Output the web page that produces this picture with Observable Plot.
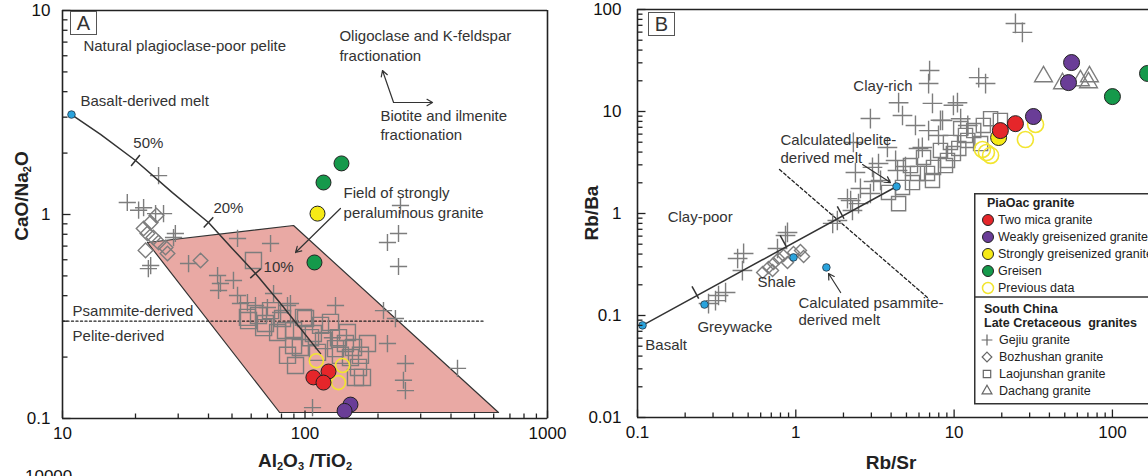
<!DOCTYPE html>
<html><head><meta charset="utf-8">
<script src="https://cdn.jsdelivr.net/npm/d3@7"></script>
<script src="https://cdn.jsdelivr.net/npm/@observablehq/plot@0.6"></script>
<style>
body{margin:0;background:#fff;}
#wrap{position:relative;width:1148px;height:476px;overflow:hidden;background:#fff;font-family:"Liberation Sans",Arial,sans-serif;color:#222}
.pl{position:absolute;top:0}
.ttl{position:absolute;font-weight:bold;font-size:19px;white-space:nowrap;color:#222;line-height:1}
.ttl sub{font-size:11px;vertical-align:-3px;line-height:0}
.box{position:absolute;border:1px solid #555;font-size:20px;line-height:22px;text-align:center;color:#333;background:#fff}
</style></head><body><div id="wrap"></div>
<script>
// ---------------- Panel A data: CaO/Na2O vs Al2O3/TiO2 ----------------
const aXTicks = [10, 100, 1000];
const aYTicks = [0.1, 1, 10];
const aGejiu = [[24.9,1.55],[18.5,1.145],[21.6,1.08],[24.2,1.01],[26.1,1.01],[29.2,0.807],[22.6,0.543],[52.7,0.763],[72.1,0.721],[33.1,0.575],[43.6,0.502],[44.8,0.459],[50.7,0.475],[44,0.424],[52.7,0.401],[57.9,0.370],[62.5,0.358],[74.2,0.410],[84.7,0.358],[79.3,0.331],[107.4,0.113],[247.6,1.107],[243,0.807],[218.8,0.729],[243,0.556],[133.6,0.358],[210.7,0.338],[236,0.309],[218.8,0.233],[259.5,0.186],[254.7,0.154],[259.5,0.137],[425.5,0.176],[87.1,0.366],[129.7,0.249],[23.1,0.562],[54.2,0.366],[70,0.350],[28.7,0.771],[20.6,1.05]];
const aBozhushan = [[21.6,0.854],[23.1,0.913],[24.4,0.989],[22.4,0.807],[22,0.667],[24.9,0.729],[26.6,0.689],[27.1,0.644],[37.1,0.595],[23.7,0.771]];
const aLaojunshan = [[61.3,0.595],[57.9,0.313],[64.3,0.320],[68.7,0.292],[58.5,0.302],[67.5,0.279],[77.1,0.264],[80.8,0.309],[89.7,0.270],[98.6,0.313],[83.1,0.270],[95.7,0.223],[105.4,0.249],[84.7,0.204],[100.5,0.309],[108.3,0.261],[127.4,0.296],[137.4,0.249],[149.6,0.264],[146.8,0.233],[158.5,0.223],[181,0.233],[154,0.199],[166.2,0.178],[172.6,0.159],[161.5,0.159],[119.2,0.241],[133.6,0.220],[112.6,0.211],[89.7,0.228],[115.9,0.286],[140,0.204],[91.4,0.182],[72.1,0.338],[169.3,0.204]];
const aTwoMica = [[108.3,0.159],[125,0.170],[119.2,0.150]];
const aWeakly = [[154,0.117],[145.6,0.109]];
const aStrongly = [[112.6,1.01]];
const aGreisen = [[141.4,1.78],[119.2,1.435],[109.4,0.582]];
const aPrevious = [[111.4,0.192],[142.8,0.182],[137.4,0.150]];
const aMeltCurve = [[10.89,3.09],[14.35,2.47],[20.0,1.84],[28.4,1.28],[40.0,0.914],[50.2,0.68],[62.5,0.514],[79.3,0.366],[115.9,0.208]];
const aCurveTickIdx = [2, 4, 6];
const aBasaltMelt = [[10.89,3.09]];
const aField = [[22.4,0.729],[89.7,0.883],[628,0.107],[78.6,0.107]];
const aDivide = [[10,0.3],[545,0.3]];
const aArrows = [
  {x1:231.9,y1:3.54,x2:208.7,y2:5.08},
  {x1:231.9,y1:3.54,x2:335.7,y2:3.54},
  {x1:140,y1:1.07,x2:91.4,y2:0.651}
];
const aLabels = [
  {x:12.2,y:6.66,t:"Natural plagioclase-poor pelite"},
  {x:11.86,y:3.58,t:"Basalt-derived melt"},
  {x:19.6,y:2.23,t:"50%"},
  {x:41.9,y:1.07,t:"20%"},
  {x:67.5,y:0.55,t:"10%"},
  {x:138.7,y:7.46,t:"Oligoclase and K-feldspar"},
  {x:138.7,y:5.95,t:"fractionation"},
  {x:204.6,y:3.02,t:"Biotite and ilmenite"},
  {x:204.6,y:2.44,t:"fractionation"},
  {x:144.3,y:1.27,t:"Field of strongly"},
  {x:144.3,y:1.02,t:"peraluminous granite"},
  {x:11,y:0.335,t:"Psammite-derived"},
  {x:11,y:0.252,t:"Pelite-derived"}
];

// ---------------- Panel B data: Rb/Ba vs Rb/Sr ----------------
const bXTicks = [0.1, 1, 10, 100];
const bYTicks = [0.01, 0.1, 1, 10, 100];
const bGejiu = [[24.4,73],[27,59.6],[7.0,25.2],[6.9,18.8],[4.46,12.2],[4.72,9.14],[2.96,8.53],[7.3,12],[9.9,11.5],[10.5,12.2],[14.3,21.5],[8.2,8.2],[6.9,6.5],[12.2,7.3],[5.96,4.34],[2.38,2.52],[2.22,1.34],[3.05,2.83],[3.43,2.11],[1.71,0.80],[0.886,0.652],[2.96,1.57],[2.49,1.25],[2.28,1.07],[2.12,1.40],[1.83,0.854],[0.861,0.608],[0.766,0.454],[0.468,0.406],[0.46,0.276],[0.429,0.362],[0.36,0.168],[0.325,0.157],[0.311,0.140],[0.281,0.131],[2.31,4.97],[3.33,3.09],[4.39,2.64],[3.79,4.44],[8.45,8.17],[15.8,18.8],[7.97,5.82],[6.3,4.44],[3.1,2.06],[2.56,1.76],[4.27,3.31],[4.93,2.89],[5.7,7.3],[11,8.5]];
const bBozhushan = [[0.672,0.296],[0.723,0.324],[0.778,0.362],[0.836,0.387],[0.967,0.415],[1.07,0.434],[1.12,0.379],[0.713,0.276],[0.886,0.331],[0.617,0.264]];
const bLaojunshan = [[4.46,1.25],[4.72,1.80],[5.46,2.01],[6.79,2.47],[7.41,2.83],[9.08,3.31],[9.9,3.87],[12.2,5.2],[11.8,5.82],[13.3,6.5],[15.3,7.3],[19.6,8.17],[5.3,2.95],[6.41,3.54],[8.2,4.15],[9.48,4.97],[11,6.8],[14.7,4.85],[7.3,2.11],[5.87,2.47],[3.85,1.61],[8.82,2.95],[10.7,4.34],[17,8.5]];
const bDachang = [[36.7,22],[48.4,18.8],[62.8,20.1],[71.6,22],[70.6,19.2]];
const bTwoMica = [[19.6,6.5],[24.4,7.6]];
const bWeakly = [[31.7,8.93],[55.2,30.2],[52.8,19.2]];
const bStrongly = [[19.1,5.56]];
const bGreisen = [[100,14],[166.6,23.6]];
const bPrevious = [[16,3.96],[15.1,4.24],[17,3.71],[28.2,5.31],[32.7,7.46]];
const bRefPoints = [[0.1076,0.08],[0.265,0.128],[0.967,0.371],[1.56,0.296],[4.33,1.84]];
const bMixLine = [[0.1076,0.08],[4.33,1.84]];
const bLineTicks = [[0.232,0.168],[0.836,0.531],[1.92,1.02]];
const bDivide = [[0.789,2.7],[6.79,0.150]];
const bArrows = [
  {x1:2.64,y1:3.02,x2:3.96,y2:2.01},
  {x1:1.92,y1:0.168,x2:1.61,y2:0.258}
];
const bLabels = [
  {x:2.31,y:17.6,t:"Clay-rich"},
  {x:0.80,y:5.2,t:"Calculated pelite-"},
  {x:0.80,y:3.46,t:"derived melt"},
  {x:0.155,y:0.914,t:"Clay-poor"},
  {x:0.573,y:0.211,t:"Shale"},
  {x:0.239,y:0.0762,t:"Greywacke"},
  {x:0.112,y:0.0508,t:"Basalt"},
  {x:1.04,y:0.131,t:"Calculated psammite-"},
  {x:1.04,y:0.0893,t:"derived melt"}
];

// ---------------- Legend ----------------
const legendPiaTitle = "PiaOac granite";
const legendPia = [
  {label:"Two mica granite", fill:"#e5262a", stroke:"#222"},
  {label:"Weakly greisenized granite", fill:"#6a3d97", stroke:"#222"},
  {label:"Strongly greisenized granite", fill:"#f6ea16", stroke:"#222"},
  {label:"Greisen", fill:"#15994b", stroke:"#222"},
  {label:"Previous data", fill:"none", stroke:"#f2e530"}
];
const legendSCTitle = ["South China", "Late Cretaceous\u00a0 granites"];
const legendSC = [
  {label:"Gejiu granite", sym:"plus"},
  {label:"Bozhushan granite", sym:"diamond"},
  {label:"Laojunshan granite", sym:"square"},
  {label:"Dachang granite", sym:"triangle"}
];

// ---------------- Rendering ----------------
const H = 476;
const FONT = '"Liberation Sans", Arial, sans-serif';
const C = {red:"#e5262a", purple:"#6a3d97", yellow:"#f6ea16", green:"#15994b", prev:"#f2e530", gray:"#7d7d7d", blue:"#2aa3dc", ink:"#222", text:"#333"};
const PA = {left:0, width:590, mt:10, mb:58, ml:62, mr:43, xDomain:[10,1000], yDomain:[0.1,10]};
const PB = {left:590, width:558, mt:9, mb:59, ml:47, mr:0, xDomain:[0.1,169], yDomain:[0.01,100]};

function scalesOf(P){
  return {
    x: Plot.scale({x:{type:"log", domain:P.xDomain, range:[P.ml, P.width - P.mr]}}),
    y: Plot.scale({y:{type:"log", domain:P.yDomain, range:[H - P.mb, P.mt]}})
  };
}
function logTicks(domain){
  const out = [];
  for (let e = Math.floor(Math.log10(domain[0])); e <= Math.ceil(Math.log10(domain[1])); e++)
    for (let k = 1; k < 10; k++) {
      const v = k * Math.pow(10, e);
      if (v >= domain[0]*0.999 && v <= domain[1]*1.001) out.push({v, major: k === 1});
    }
  return out;
}
function axisTicks(P, S){
  const out = [];
  const y0 = P.yDomain[0], x0 = P.xDomain[0];
  for (const t of logTicks(P.xDomain)) {
    const len = t.major ? 8 : 5;
    out.push({x1:t.v, x2:t.v, y1:y0, y2:S.y.invert(S.y.apply(y0) - len)});
  }
  for (const t of logTicks(P.yDomain)) {
    const len = t.major ? 8 : 5;
    out.push({y1:t.v, y2:t.v, x1:x0, x2:S.x.invert(S.x.apply(x0) + len)});
  }
  return out;
}
function perpTicks(S, pts, dirs, half){
  return pts.map((p, i) => {
    const [a, b] = dirs[i];
    const px = S.x.apply(p[0]), py = S.y.apply(p[1]);
    let dx = S.x.apply(b[0]) - S.x.apply(a[0]), dy = S.y.apply(b[1]) - S.y.apply(a[1]);
    const n = Math.hypot(dx, dy); dx /= n; dy /= n;
    const nx = -dy, ny = dx;
    return {x1:S.x.invert(px + nx*half), y1:S.y.invert(py + ny*half), x2:S.x.invert(px - nx*half), y2:S.y.invert(py - ny*half)};
  });
}
const X = d => d[0], Y = d => d[1];
function circles(data, fill, stroke, r){ return Plot.dot(data, {x:X, y:Y, r, fill, stroke, strokeWidth: fill === "none" ? 1.6 : 1}); }
function gray(data, symbol, r){ return Plot.dot(data, {x:X, y:Y, symbol, r, fill:"none", stroke:C.gray, strokeWidth:1.4}); }
function frameMarks(P, S, withRight){
  const m = [
    Plot.link(axisTicks(P, S), {x1:"x1", y1:"y1", x2:"x2", y2:"y2", stroke:C.ink, strokeWidth:1.3}),
    Plot.ruleY([P.yDomain[0]], {stroke:C.ink, strokeWidth:1.6}),
    Plot.ruleY([P.yDomain[1]], {stroke:C.ink, strokeWidth:1.6}),
    Plot.ruleX([P.xDomain[0]], {stroke:C.ink, strokeWidth:1.6})
  ];
  if (withRight) m.push(Plot.ruleX([P.xDomain[1]], {stroke:C.ink, strokeWidth:1.6}));
  return m;
}
function tickLabels(P, xt, yt, ypad){
  return [
    Plot.text(xt, {x:d => d, frameAnchor:"bottom", dy:20, text:d => String(d), fontSize:17, fill:"#111"}),
    Plot.text(yt, {y:d => d, frameAnchor:"left", dx:-ypad, textAnchor:"end", text:d => String(d), fontSize:17, fill:"#111"})
  ];
}
function labels(data){ return Plot.text(data, {x:"x", y:"y", text:"t", textAnchor:"start", fontSize:15, fill:C.text}); }
function arrows(data){ return Plot.arrow(data, {x1:"x1", y1:"y1", x2:"x2", y2:"y2", stroke:C.text, strokeWidth:1.2, headLength:8}); }

const wrap = document.getElementById("wrap");

// Panel A
const SA = scalesOf(PA);
const aTickLinks = perpTicks(SA, aCurveTickIdx.map(i => aMeltCurve[i]), aCurveTickIdx.map(i => [aMeltCurve[i-1], aMeltCurve[i+1]]), 7);
const plotA = Plot.plot({
  width: PA.width, height: H,
  marginTop: PA.mt, marginBottom: PA.mb, marginLeft: PA.ml, marginRight: PA.mr,
  x: {type:"log", domain: PA.xDomain, axis: null},
  y: {type:"log", domain: PA.yDomain, axis: null},
  style: {background:"transparent", fontFamily: FONT, overflow:"visible"},
  marks: [
    Plot.line([...aField, aField[0]], {x:X, y:Y, fill:"#e9a9a4", stroke:"#333", strokeWidth:1.2}),
    Plot.line(aDivide, {x:X, y:Y, stroke:C.ink, strokeWidth:1.3, strokeDasharray:"2,2.5"}),
    gray(aLaojunshan, "square2", 10.2),
    gray(aBozhushan, "diamond2", 6.6),
    gray(aGejiu, "plus", 5.6),
    Plot.line(aMeltCurve, {x:X, y:Y, stroke:"#333", strokeWidth:1.5}),
    Plot.link(aTickLinks, {x1:"x1", y1:"y1", x2:"x2", y2:"y2", stroke:"#333", strokeWidth:1.5}),
    Plot.dot(aBasaltMelt, {x:X, y:Y, r:3.8, fill:C.blue, stroke:"#234", strokeWidth:0.8}),
    arrows(aArrows),
    circles(aPrevious, "none", C.prev, 7),
    circles(aGreisen, C.green, "#222", 7.5),
    circles(aStrongly, C.yellow, "#222", 7.5),
    circles(aTwoMica, C.red, "#222", 7.5),
    circles(aWeakly, C.purple, "#222", 7.5),
    labels(aLabels),
    ...frameMarks(PA, SA, true),
    ...tickLabels(PA, aXTicks, aYTicks, 12)
  ]
});
plotA.classList.add("pl"); plotA.style.left = PA.left + "px";
wrap.appendChild(plotA);

// Panel B
const SB = scalesOf(PB);
const bTickLinks = perpTicks(SB, bLineTicks, bLineTicks.map(() => bMixLine), 7);
const plotB = Plot.plot({
  width: PB.width, height: H,
  marginTop: PB.mt, marginBottom: PB.mb, marginLeft: PB.ml, marginRight: PB.mr,
  x: {type:"log", domain: PB.xDomain, axis: null},
  y: {type:"log", domain: PB.yDomain, axis: null},
  style: {background:"transparent", fontFamily: FONT, overflow:"visible"},
  marks: [
    Plot.line(bDivide, {x:X, y:Y, stroke:C.ink, strokeWidth:1.3, strokeDasharray:"3,2.5"}),
    gray(bLaojunshan, "square2", 9),
    gray(bBozhushan, "diamond2", 5.4),
    gray(bDachang, "triangle2", 8.5),
    gray(bGejiu, "plus", 6.4),
    Plot.line(bMixLine, {x:X, y:Y, stroke:"#333", strokeWidth:1.5}),
    Plot.link(bTickLinks, {x1:"x1", y1:"y1", x2:"x2", y2:"y2", stroke:"#333", strokeWidth:1.5}),
    Plot.dot(bRefPoints, {x:X, y:Y, r:3.8, fill:C.blue, stroke:"#234", strokeWidth:0.8}),
    arrows(bArrows),
    circles(bPrevious, "none", C.prev, 8),
    circles(bStrongly, C.yellow, "#222", 8),
    circles(bTwoMica, C.red, "#222", 8),
    circles(bWeakly, C.purple, "#222", 8),
    circles(bGreisen, C.green, "#222", 8),
    labels(bLabels),
    ...frameMarks(PB, SB, false),
    ...tickLabels(PB, bXTicks, bYTicks, 16)
  ]
});
plotB.classList.add("pl"); plotB.style.left = PB.left + "px";
wrap.appendChild(plotB);

// Panel letters and axis titles (HTML overlays, for subscripts)
function addHTML(html, cls, css){ const d = document.createElement("div"); d.className = cls; d.innerHTML = html; Object.assign(d.style, css); wrap.appendChild(d); return d; }
addHTML("A", "box", {left:"70px", top:"11px", width:"25px", height:"22px"});
addHTML("B", "box", {left:"648px", top:"12px", width:"25px", height:"22px"});
addHTML("CaO/Na<sub>2</sub>O", "ttl", {left:"21px", top:"196px", transform:"translate(-50%,-50%) rotate(-90deg)"});
addHTML("Al<sub>2</sub>O<sub>3</sub> /TiO<sub>2</sub>", "ttl", {left:"305px", top:"460px", transform:"translate(-50%,-50%)"});
addHTML("Rb/Ba", "ttl", {left:"591px", top:"213px", transform:"translate(-50%,-50%) rotate(-90deg)"});
addHTML("Rb/Sr", "ttl", {left:"891px", top:"462px", transform:"translate(-50%,-50%)"});
addHTML("10000", "ttl", {left:"25px", top:"468px", fontWeight:"normal", fontSize:"17px", color:"#111"});

// Legend
const lg = d3.select(wrap).append("svg")
  .style("position","absolute").style("left","974px").style("top","193px")
  .attr("width", 180).attr("height", 212).style("font-family", FONT);
lg.append("rect").attr("x",0.75).attr("y",0.75).attr("width",200).attr("height",210).attr("fill","#fff").attr("stroke","#333").attr("stroke-width",1.5);
lg.append("line").attr("x1",0).attr("x2",200).attr("y1",104).attr("y2",104).attr("stroke","#333").attr("stroke-width",1.5);
lg.append("text").attr("x",13).attr("y",10).attr("dy","0.35em").attr("font-size",12.5).attr("font-weight","bold").attr("fill","#222").text(legendPiaTitle);
legendPia.forEach((d, i) => {
  const y = 27 + i * 17;
  lg.append("circle").attr("cx",14).attr("cy",y).attr("r",5.5).attr("fill",d.fill).attr("stroke",d.stroke).attr("stroke-width", d.fill === "none" ? 1.5 : 1);
  lg.append("text").attr("x",24).attr("y",y).attr("dy","0.35em").attr("font-size",12.5).attr("fill","#222").text(d.label);
});
legendSCTitle.forEach((t, i) => {
  lg.append("text").attr("x",10).attr("y",116 + i*14).attr("dy","0.35em").attr("font-size",12.5).attr("font-weight","bold").attr("fill","#222").text(t);
});
const symMap = {plus:[d3.symbolPlus, 40], diamond:[d3.symbolDiamond2, 60], square:[d3.symbolSquare2, 70], triangle:[d3.symbolTriangle2, 70]};
legendSC.forEach((d, i) => {
  const y = 147 + i * 17;
  const [s, size] = symMap[d.sym];
  lg.append("path").attr("d", d3.symbol(s, size)()).attr("transform", `translate(13,${y})`).attr("fill","none").attr("stroke","#666").attr("stroke-width",1.2);
  lg.append("text").attr("x",25).attr("y",y).attr("dy","0.35em").attr("font-size",12.5).attr("fill","#222").text(d.label);
});
</script></body></html>
